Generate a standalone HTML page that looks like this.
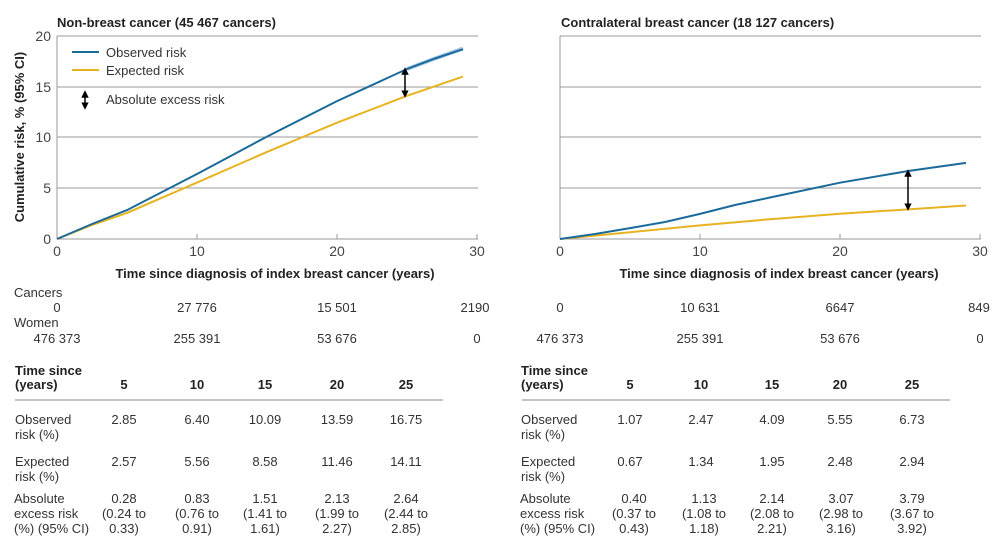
<!DOCTYPE html>
<html><head><meta charset="utf-8"><style>
html,body{margin:0;padding:0;background:#fff}
svg{display:block;font-family:"Liberation Sans",sans-serif}
.t{font-size:13px;fill:#333}
.b{font-size:13px;font-weight:bold;fill:#222}
.k{font-size:14px;fill:#444}
.g{stroke:#999;stroke-width:1}
</style></head><body>
<svg width="1000" height="547" viewBox="0 0 1000 547">
<defs>
<marker id="ah" viewBox="0 0 10 10" refX="5" refY="5" markerWidth="5" markerHeight="5" orient="auto-start-reverse"><path d="M0,0 L10,5 L0,10 z" fill="#000"/></marker>
</defs>
<!-- LEFT CHART -->
<text class="b" x="57" y="27">Non-breast cancer (45 467 cancers)</text>
<g class="g">
<line x1="57" y1="36" x2="478" y2="36"/><line x1="57" y1="87" x2="478" y2="87"/>
<line x1="57" y1="137" x2="478" y2="137"/><line x1="57" y1="188" x2="478" y2="188"/>
<line x1="57" y1="239" x2="478" y2="239"/><line x1="57" y1="36" x2="57" y2="239"/>
<line x1="197" y1="234" x2="197" y2="239"/><line x1="337" y1="234" x2="337" y2="239"/><line x1="477" y1="234" x2="477" y2="239"/>
</g>
<g class="k" text-anchor="end"><text x="51" y="41">20</text><text x="51" y="92">15</text><text x="51" y="142">10</text><text x="51" y="193">5</text><text x="51" y="244">0</text></g>
<g class="k" text-anchor="middle"><text x="57" y="256">0</text><text x="197" y="256">10</text><text x="337" y="256">20</text><text x="477" y="256">30</text></g>
<text class="b" x="275" y="278" text-anchor="middle">Time since diagnosis of index breast cancer (years)</text>
<text class="b" transform="translate(24,137) rotate(-90)" text-anchor="middle">Cumulative risk, % (95% CI)</text>
<line x1="72" y1="52" x2="99" y2="52" stroke="#1a6a9a" stroke-width="2"/>
<text class="t" x="106" y="57">Observed risk</text>
<line x1="72" y1="70" x2="99" y2="70" stroke="#e8b321" stroke-width="2"/>
<text class="t" x="106" y="75">Expected risk</text>
<line x1="85" y1="94" x2="85" y2="106" stroke="#000" stroke-width="1.5" marker-start="url(#ah)" marker-end="url(#ah)"/>
<text class="t" x="106" y="104">Absolute excess risk</text>
<polyline fill="none" stroke="#e8b321" stroke-width="2" points="57,239 92,225 127,212.9 197,182.6 267,151.9 337,122.7 407,95.8 463,76.6"/>
<polyline fill="none" stroke="#a9c9ea" stroke-width="4" points="407,69 435,58.5 463,48.5"/>
<polyline fill="none" stroke="#1a6a9a" stroke-width="2" points="57,239 92,224 127,210.1 197,174 267,136.6 337,101.1 407,69 435,58.5 463,49.2"/>
<line x1="405" y1="71" x2="405" y2="94" stroke="#000" stroke-width="1.5" marker-start="url(#ah)" marker-end="url(#ah)"/>
<!-- RIGHT CHART -->
<text class="b" x="561" y="27">Contralateral breast cancer (18 127 cancers)</text>
<g class="g">
<line x1="560" y1="36" x2="981" y2="36"/><line x1="560" y1="87" x2="981" y2="87"/>
<line x1="560" y1="137" x2="981" y2="137"/><line x1="560" y1="188" x2="981" y2="188"/>
<line x1="560" y1="239" x2="981" y2="239"/><line x1="560" y1="36" x2="560" y2="239"/>
<line x1="700" y1="234" x2="700" y2="239"/><line x1="840" y1="234" x2="840" y2="239"/><line x1="980" y1="234" x2="980" y2="239"/>
</g>
<g class="k" text-anchor="middle"><text x="560" y="256">0</text><text x="700" y="256">10</text><text x="840" y="256">20</text><text x="980" y="256">30</text></g>
<text class="b" x="779" y="278" text-anchor="middle">Time since diagnosis of index breast cancer (years)</text>
<polyline fill="none" stroke="#e8b321" stroke-width="2" points="560,239 630,232.2 700,225.4 770,219.2 840,213.8 910,209.2 966,205.5"/>
<polyline fill="none" stroke="#1a6a9a" stroke-width="2" points="560,239 595,234 630,228.1 665,222 700,213.9 735,205 770,197.5 840,182.7 910,170.7 966,162.9"/>
<line x1="908" y1="173" x2="908" y2="207" stroke="#000" stroke-width="1.5" marker-start="url(#ah)" marker-end="url(#ah)"/>
<!-- COUNTS -->
<text class="t" x="14" y="297">Cancers</text>
<text class="t" x="14" y="327">Women</text>
<g class="t" text-anchor="middle">
<text x="57" y="312">0</text><text x="197" y="312">27 776</text><text x="337" y="312">15 501</text><text x="475" y="312">2190</text>
<text x="57" y="343">476 373</text><text x="197" y="343">255 391</text><text x="337" y="343">53 676</text><text x="477" y="343">0</text>
<text x="560" y="312">0</text><text x="700" y="312">10 631</text><text x="840" y="312">6647</text><text x="979" y="312">849</text>
<text x="560" y="343">476 373</text><text x="700" y="343">255 391</text><text x="840" y="343">53 676</text><text x="980" y="343">0</text>
</g>
<!-- LEFT TABLE -->
<text class="b" x="15" y="375">Time since</text><text class="b" x="15" y="389">(years)</text>
<g class="b" text-anchor="middle"><text x="124" y="389">5</text><text x="197" y="389">10</text><text x="265" y="389">15</text><text x="337" y="389">20</text><text x="406" y="389">25</text></g>
<line x1="15" y1="400" x2="443" y2="400" stroke="#888" stroke-width="1"/>
<text class="t" x="15" y="424">Observed</text><text class="t" x="15" y="439">risk (%)</text>
<text class="t" x="15" y="466">Expected</text><text class="t" x="15" y="481">risk (%)</text>
<text class="t" x="14" y="503">Absolute</text><text class="t" x="14" y="518">excess risk</text><text class="t" x="14" y="533">(%) (95% CI)</text>
<g class="t" text-anchor="middle">
<text x="124" y="424">2.85</text><text x="197" y="424">6.40</text><text x="265" y="424">10.09</text><text x="337" y="424">13.59</text><text x="406" y="424">16.75</text>
<text x="124" y="466">2.57</text><text x="197" y="466">5.56</text><text x="265" y="466">8.58</text><text x="337" y="466">11.46</text><text x="406" y="466">14.11</text>
<text x="124" y="503">0.28</text><text x="124" y="518">(0.24 to</text><text x="124" y="533">0.33)</text>
<text x="197" y="503">0.83</text><text x="197" y="518">(0.76 to</text><text x="197" y="533">0.91)</text>
<text x="265" y="503">1.51</text><text x="265" y="518">(1.41 to</text><text x="265" y="533">1.61)</text>
<text x="337" y="503">2.13</text><text x="337" y="518">(1.99 to</text><text x="337" y="533">2.27)</text>
<text x="406" y="503">2.64</text><text x="406" y="518">(2.44 to</text><text x="406" y="533">2.85)</text>
</g>
<!-- RIGHT TABLE -->
<text class="b" x="521" y="375">Time since</text><text class="b" x="521" y="389">(years)</text>
<g class="b" text-anchor="middle"><text x="630" y="389">5</text><text x="701" y="389">10</text><text x="772" y="389">15</text><text x="840" y="389">20</text><text x="912" y="389">25</text></g>
<line x1="522" y1="400" x2="950" y2="400" stroke="#888" stroke-width="1"/>
<text class="t" x="521" y="424">Observed</text><text class="t" x="521" y="439">risk (%)</text>
<text class="t" x="521" y="466">Expected</text><text class="t" x="521" y="481">risk (%)</text>
<text class="t" x="520" y="503">Absolute</text><text class="t" x="520" y="518">excess risk</text><text class="t" x="520" y="533">(%) (95% CI)</text>
<g class="t" text-anchor="middle">
<text x="630" y="424">1.07</text><text x="701" y="424">2.47</text><text x="772" y="424">4.09</text><text x="840" y="424">5.55</text><text x="912" y="424">6.73</text>
<text x="630" y="466">0.67</text><text x="701" y="466">1.34</text><text x="772" y="466">1.95</text><text x="840" y="466">2.48</text><text x="912" y="466">2.94</text>
<text x="634" y="503">0.40</text><text x="634" y="518">(0.37 to</text><text x="634" y="533">0.43)</text>
<text x="704" y="503">1.13</text><text x="704" y="518">(1.08 to</text><text x="704" y="533">1.18)</text>
<text x="772" y="503">2.14</text><text x="772" y="518">(2.08 to</text><text x="772" y="533">2.21)</text>
<text x="841" y="503">3.07</text><text x="841" y="518">(2.98 to</text><text x="841" y="533">3.16)</text>
<text x="912" y="503">3.79</text><text x="912" y="518">(3.67 to</text><text x="912" y="533">3.92)</text>
</g>
</svg>
</body></html>
